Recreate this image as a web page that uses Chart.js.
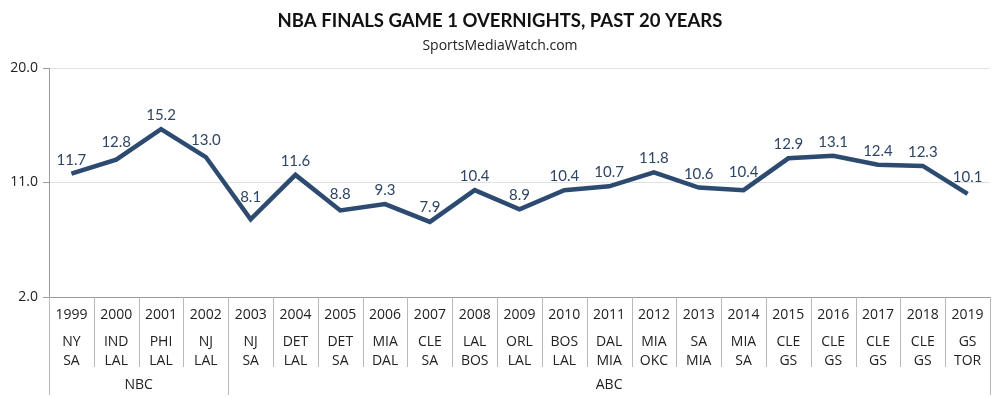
<!DOCTYPE html>
<html>
<head>
<meta charset="utf-8">
<script src="https://cdn.jsdelivr.net/npm/chart.js@4/dist/chart.umd.min.js"></script>
<style>
  html, body { margin: 0; padding: 0; background: #fff; }
  #wrap { width: 1000px; height: 398px; position: relative; }
</style>
</head>
<body>
<div id="wrap"><canvas id="finals"></canvas></div>
<script>
// Dados do gráfico
const years = ['1999','2000','2001','2002','2003','2004','2005','2006','2007','2008','2009',
  '2010','2011','2012','2013','2014','2015','2016','2017','2018','2019'];
const teamsTop = ['NY','IND','PHI','NJ','NJ','DET','DET','MIA','CLE','LAL','ORL',
  'BOS','DAL','MIA','SA','MIA','CLE','CLE','CLE','CLE','GS'];
const teamsBottom = ['SA','LAL','LAL','LAL','SA','LAL','SA','DAL','SA','BOS','LAL',
  'LAL','MIA','OKC','MIA','SA','GS','GS','GS','GS','TOR'];
const overnights = [11.7, 12.8, 15.2, 13.0, 8.1, 11.6, 8.8, 9.3, 7.9, 10.4, 8.9,
  10.4, 10.7, 11.8, 10.6, 10.4, 12.9, 13.1, 12.4, 12.3, 10.1];
const networkNames = ['NBC', 'ABC'];
const networkStarts = [0, 4];
const yTicks = [2, 11, 20];

const lineColor = '#2d4b70';
const labelColor = '#2e4564';
const textColor = '#222222';
const sepColor = '#b8b8b8';

// Rótulos de valor acima dos pontos (sobem se a linha passa por baixo deles)
const valueLabels = {
  id: 'valueLabels',
  afterDatasetsDraw(chart) {
    const ctx = chart.ctx;
    const pts = chart.getDatasetMeta(0).data;
    ctx.save();
    ctx.font = '15px Lato';
    ctx.fillStyle = labelColor;
    ctx.textAlign = 'center';
    ctx.textBaseline = 'alphabetic';
    pts.forEach(function(p, i) {
      const txt = overnights[i].toFixed(1);
      const half = ctx.measureText(txt).width / 2;
      let base = p.y - 9;
      [pts[i - 1], pts[i + 1]].forEach(function(n) {
        if (!n) return;
        const t = half / Math.abs(n.x - p.x);
        const yEdge = p.y + (n.y - p.y) * t;
        base = Math.min(base, yEdge - 3);
      });
      ctx.fillText(txt, p.x, base);
    });
    ctx.restore();
  }
};

// Times, separadores e redes abaixo do eixo
const categoryTable = {
  id: 'categoryTable',
  afterDraw(chart) {
    const ctx = chart.ctx;
    const xs = chart.scales.x;
    const bottom = chart.chartArea.bottom;
    const step = xs.getPixelForValue(1) - xs.getPixelForValue(0);
    ctx.save();
    ctx.strokeStyle = sepColor;
    ctx.lineWidth = 1;
    for (let i = 0; i <= years.length; i++) {
      const x = Math.round(xs.getPixelForValue(i) - step / 2) + 0.5;
      const isGroup = networkStarts.includes(i) || i === years.length;
      ctx.beginPath();
      ctx.moveTo(x, bottom);
      ctx.lineTo(x, isGroup ? 395 : 367);
      ctx.stroke();
    }
    ctx.font = '14px "Open Sans"';
    ctx.fillStyle = textColor;
    ctx.textAlign = 'center';
    ctx.textBaseline = 'middle';
    years.forEach(function(y, i) {
      const x = xs.getPixelForValue(i);
      ctx.fillText(teamsTop[i], x, 342);
      ctx.fillText(teamsBottom[i], x, 361);
    });
    networkNames.forEach(function(name, g) {
      const from = networkStarts[g];
      const to = g + 1 < networkStarts.length ? networkStarts[g + 1] - 1 : years.length - 1;
      const x = (xs.getPixelForValue(from) + xs.getPixelForValue(to)) / 2;
      ctx.fillText(name, x, 385);
    });
    ctx.restore();
  }
};

new Chart(document.getElementById('finals'), {
  type: 'line',
  data: {
    labels: years,
    datasets: [{
      data: overnights,
      borderColor: lineColor,
      borderWidth: 4.5,
      pointRadius: 0,
      tension: 0,
      fill: false
    }]
  },
  options: {
    responsive: true,
    maintainAspectRatio: false,
    animation: false,
    layout: { padding: { left: 10, right: 10, top: 0, bottom: 0 } },
    plugins: {
      legend: { display: false },
      tooltip: { enabled: false },
      title: {
        display: true,
        text: 'NBA FINALS GAME 1 OVERNIGHTS, PAST 20 YEARS',
        color: '#111111',
        font: { family: 'Lato', size: 18.5, weight: 'bold' },
        padding: { top: 10, bottom: 2 }
      },
      subtitle: {
        display: true,
        text: 'SportsMediaWatch.com',
        color: textColor,
        font: { family: '"Open Sans"', size: 14 },
        padding: { top: 3, bottom: 14 }
      }
    },
    scales: {
      x: {
        offset: true,
        grid: { display: false },
        border: { display: true, color: '#9a9a9a', width: 1 },
        ticks: {
          color: textColor,
          font: { family: '"Open Sans"', size: 14 },
          padding: 2,
          maxRotation: 0,
          autoSkip: false
        },
        afterFit(scale) { scale.height = 101; }
      },
      y: {
        min: 2,
        max: 20,
        afterBuildTicks(scale) {
          scale.ticks = yTicks.map(function(v) { return { value: v }; });
        },
        grid: { color: '#e2e2e2', tickColor: '#9a9a9a', tickLength: 6 },
        border: { display: true, color: '#9a9a9a', width: 1 },
        ticks: {
          color: textColor,
          font: { family: '"Open Sans"', size: 14 },
          padding: 5,
          callback(v) { return Number(v).toFixed(1); }
        },
        afterFit(scale) { scale.width = 39; }
      }
    }
  },
  plugins: [valueLabels, categoryTable]
});
</script>
</body>
</html>
